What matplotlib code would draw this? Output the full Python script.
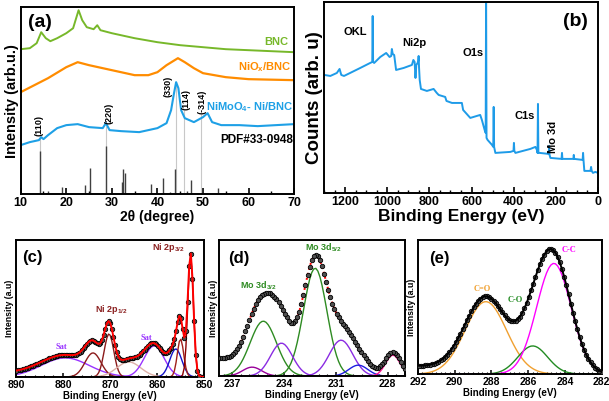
import matplotlib
matplotlib.use('Agg')
import matplotlib.pyplot as plt
import numpy as np
from matplotlib.ticker import MultipleLocator

plt.rcParams.update({
    'font.family': ['Liberation Sans', 'DejaVu Sans'],
    'font.weight': 'bold',
    'axes.labelweight': 'bold',
    'axes.linewidth': 1.4,
    'mathtext.fontset': 'custom',
    'mathtext.rm': 'Liberation Sans:bold',
    'mathtext.it': 'Liberation Sans:bold',
    'mathtext.bf': 'Liberation Sans:bold',
    'xtick.direction': 'in',
    'ytick.direction': 'in',
})

# ---- (a) XRD patterns (arbitrary offset units) ----
bnc_t = [10, 12, 13.5, 14.5, 15.5, 16.5, 18, 20, 21.5, 22.7, 23.5, 24.5, 26, 26.8,
         27.5, 30, 35, 40, 45, 50, 55, 60, 70]
bnc_i = [145, 146, 151, 162, 156, 153, 156, 161, 166, 184, 174, 167, 165, 169,
         164, 161, 156, 152, 149, 147, 145, 144, 142]
niox_t = [10, 13, 16, 20, 22.5, 25, 30, 35, 38, 40, 42, 44.5, 46, 48, 50, 55, 60, 70]
niox_i = [102, 109, 116, 127, 132, 129, 124, 119, 119, 122, 129, 136, 132, 126,
          121, 117, 115, 114]
nimo_t = [10, 12, 14, 14.5, 15, 16, 18, 20, 22.5, 25, 28, 28.7, 29.5, 32, 36, 40,
          42, 43, 43.6, 44.1, 44.6, 45.2, 46, 48, 50, 51, 52, 54, 58, 62, 70]
nimo_i = [49, 52, 54, 57, 55, 59, 66, 69, 70, 67, 66, 71, 64, 63, 62, 66,
          71, 84, 100, 112, 106, 84, 76, 72, 77, 81, 72, 69, 69, 68, 70]
pdf_pos = [14.3, 16.0, 19.0, 24.0, 25.3, 28.8, 32.2, 32.5, 32.8, 38.5, 41.2,
           42.8, 43.8, 46.5, 47.4, 53.3]
pdf_int = [43, 3, 7, 9, 26, 48, 12, 25, 21, 10, 16, 2, 25, 3, 14, 6]
guide_pos = [14.3, 28.8, 44.0, 45.9, 49.6]
guide_top = [56, 68, 112, 84, 80]
hkl_text = ['(110)', '(220)', '(330)', '(114)', '(-314)']
hkl_x = [14.0, 29.4, 42.4, 46.3, 49.7]
hkl_y = [69, 81, 108, 95, 92]

# ---- (b) survey spectrum ----
sv_e = [1298, 1270, 1239, 1226, 1218, 1205, 1176, 1128, 1081, 1071, 1069, 1067,
        1062, 1033, 1005, 989, 981, 978, 974, 967, 958, 922, 883, 876, 870, 866,
        862, 856, 853, 851, 849, 846, 840, 812, 780, 765, 756, 725, 719, 693, 646,
        640, 606, 559, 551, 538, 533, 531, 529, 524, 503, 497, 495, 493, 487, 416,
        401, 399, 397, 392, 321, 297, 290, 287, 285, 283, 277, 234, 232, 230, 226,
        173, 171, 169, 117, 115, 113, 73, 71, 69, 65, 36, 33, 30, 24, 13, 0]
sv_c = [118, 117, 120, 124, 118, 117, 120, 125, 130, 131, 177, 131,
        130, 136, 140, 136, 137, 144, 139, 138, 123, 125, 128, 133, 131, 115,
        128, 130, 132, 137, 125, 113, 104, 102, 104, 100, 98, 96, 92, 90, 90,
        83, 75, 78, 73, 63, 60, 205, 55, 53, 48, 46, 86, 46, 40, 41,
        42, 50, 42, 40, 44, 46, 43, 40, 89, 40, 40, 39, 47, 38, 35,
        34, 40, 34, 34, 38, 34, 33, 40, 33, 22, 22, 26, 22, 20, 21, 20]
sv_text = ['OKL', 'Ni2p', 'O1s', 'C1s']
sv_tx = [1152, 873, 592, 350]
sv_ty = [161, 150, 140, 77]

# ---- (c) Ni 2p fit: centre (eV), height, FWHM ----
ni_c = [879.5, 873.6, 870.2, 866.0, 860.6, 856.0, 855.0, 852.85]
ni_h = [19, 24, 43, 15, 31, 28, 38, 122]
ni_w = [12.0, 4.0, 2.4, 6.0, 5.0, 3.0, 1.6, 1.4]
ni_col = ['#9933FF', '#8B1A1A', '#8B1A1A', '#DDB0A8', '#9933FF', '#1414C8',
          '#A0201A', '#8B0000']
ni_bg = [4, 0]

# ---- (d) Mo 3d fit ----
mo_c = [235.2, 232.2, 235.85, 234.15, 230.7, 229.7, 227.7]
mo_h = [55, 108, 9, 33, 36, 11, 21]
mo_w = [1.8, 1.6, 1.3, 1.5, 1.6, 1.3, 1.0]
mo_col = ['#2E8B22', '#2E8B22', '#990099', '#8A2BE2', '#8A2BE2', '#1E1EE0',
          '#FF1493']
mo_bg = [18, 2]

# ---- (e) C 1s fit ----
c_c = [288.3, 285.75, 284.6]
c_h = [72, 28, 110]
c_w = [2.65, 1.9, 2.2]
c_col = ['#F0A030', '#228B22', '#FF00FF']
c_bg = [8, 0]


def gauss(x, c, h, w):
    s = w / 2.3548
    return h * np.exp(-(x - c) ** 2 / (2 * s ** 2))


def fit_panel(ax, lo, hi, step, cen, hgt, fw, cols, bg, fitcol, fitls, on_top):
    x = np.arange(lo, hi + step / 2, step)
    base = bg[1] + (bg[0] - bg[1]) * (x - lo) / (hi - lo)
    total = base.copy()
    for c, h, w, col in zip(cen, hgt, fw, cols):
        y = gauss(x, c, h, w)
        total += y
        ax.plot(x, y, color=col, lw=1.0)
    ax.plot(x, total, 'o', ms=3.2, mfc='#505050', mec='black', mew=0.6, zorder=3)
    ax.plot(x, total, color=fitcol, ls=fitls, lw=1.4, zorder=4 if on_top else 2)
    ax.set_xlim(hi, lo)


fig = plt.figure(figsize=(6.09, 4.01), dpi=100)

# (a)
ax = fig.add_axes([0.034, 0.516, 0.449, 0.466])
ax.vlines(guide_pos, 0, guide_top, color='#C8C8C8', lw=0.8)
ax.vlines(pdf_pos, 0, pdf_int, color='#404040', lw=1.0)
ax.plot(bnc_t, bnc_i, color='#77B82A', lw=1.4)
ax.plot(niox_t, niox_i, color='#FF8C00', lw=1.6)
ax.plot(nimo_t, nimo_i, color='#1EA0E6', lw=1.5)
for t, xx, yy in zip(hkl_text, hkl_x, hkl_y):
    ax.text(xx, yy, t, rotation=90, ha='center', va='center', fontsize=6.5)
ax.text(68.7, 152, 'BNC', color='#77B82A', fontsize=8, ha='right', va='center')
ax.text(69.5, 127, r'NiO$_\mathrm{x}$/BNC', color='#FF8C00', fontsize=8,
        ha='right', va='center')
ax.text(69.8, 87, r'NiMoO$_\mathrm{4}$- Ni/BNC', color='#1EA0E6', fontsize=8,
        ha='right', va='center')
ax.text(69.8, 54, 'PDF#33-0948', color='black', fontsize=8.5, ha='right',
        va='center')
ax.text(11.6, 172, '(a)', fontsize=14, va='center')
ax.set_xlim(10, 70)
ax.set_ylim(0, 187)
ax.xaxis.set_major_locator(MultipleLocator(10))
ax.xaxis.set_minor_locator(MultipleLocator(5))
ax.tick_params(axis='y', left=False, labelleft=False)
ax.tick_params(axis='x', labelsize=9, length=4, width=1.2, pad=2)
ax.tick_params(axis='x', which='minor', length=2.5, width=1.0)
ax.set_xlabel('2θ (degree)', fontsize=10, labelpad=1)
ax.set_ylabel('Intensity (arb.u.)', fontsize=10.5, labelpad=1)

# (b)
ax = fig.add_axes([0.532, 0.519, 0.450, 0.476])
ax.plot(sv_e, sv_c, color='#1E9BE8', lw=1.4)
for t, xx, yy in zip(sv_text, sv_tx, sv_ty):
    ax.text(xx, yy, t, fontsize=8, ha='center', va='center')
ax.text(212, 56, 'Mo 3d', rotation=90, fontsize=8, ha='center', va='center')
ax.text(107, 171, '(b)', fontsize=14, ha='center', va='center')
ax.set_xlim(1300, 0)
ax.set_ylim(0, 191)
ax.xaxis.set_major_locator(MultipleLocator(200))
ax.xaxis.set_minor_locator(MultipleLocator(50))
ax.tick_params(axis='y', left=False, labelleft=False)
ax.tick_params(axis='x', labelsize=9, length=4, width=1.2, pad=2)
ax.tick_params(axis='x', which='minor', length=2.5, width=1.0)
ax.set_xlabel('Binding Energy (eV)', fontsize=12.5, labelpad=1)
ax.set_ylabel('Counts (arb. u)', fontsize=13.5, labelpad=1)

# (c)
ax = fig.add_axes([0.026, 0.060, 0.309, 0.342])
fit_panel(ax, 850, 890, 0.35, ni_c, ni_h, ni_w, ni_col, ni_bg, 'red', '-', True)
ax.text(857.5, 129, r'Ni 2p$_\mathrm{3/2}$', color='#8B2020', fontsize=6.5,
        ha='center', va='center')
ax.text(869.6, 67, r'Ni 2p$_\mathrm{1/2}$', color='#8B2020', fontsize=6.5,
        ha='center', va='center')
ax.text(880.3, 30, 'Sat', color='#9933FF', fontsize=6, ha='center',
        va='center', family='Liberation Serif')
ax.text(862.2, 39, 'Sat', color='#9933FF', fontsize=6, ha='center',
        va='center', family='Liberation Serif')
ax.text(886.4, 119, '(c)', fontsize=12, ha='center', va='center')
ax.set_ylim(0, 137)
ax.xaxis.set_major_locator(MultipleLocator(10))
ax.xaxis.set_minor_locator(MultipleLocator(2))

# (d)
ax = fig.add_axes([0.360, 0.062, 0.305, 0.339])
fit_panel(ax, 227.0, 237.75, 0.12, mo_c, mo_h, mo_w, mo_col, mo_bg, 'red', ':',
          False)
ax.text(235.5, 90, r'Mo 3d$_\mathrm{3/2}$', color='#2E8B22', fontsize=6.5,
        ha='center', va='center')
ax.text(231.75, 128, r'Mo 3d$_\mathrm{5/2}$', color='#2E8B22', fontsize=6.5,
        ha='center', va='center')
ax.text(236.6, 118, '(d)', fontsize=12, ha='center', va='center')
ax.set_ylim(0, 136)
ax.xaxis.set_major_locator(MultipleLocator(3))
ax.xaxis.set_minor_locator(MultipleLocator(0.5))

# (e)
ax = fig.add_axes([0.686, 0.067, 0.302, 0.334])
fit_panel(ax, 282, 292, 0.12, c_c, c_h, c_w, c_col, c_bg, 'black', '-', True)
ax.text(288.5, 85, 'C=O', color='#F0A030', fontsize=6, ha='center',
        va='center', family='Liberation Serif')
ax.text(286.7, 74, 'C-O', color='#228B22', fontsize=6, ha='center',
        va='center', family='Liberation Serif')
ax.text(283.8, 123, 'C-C', color='#FF00FF', fontsize=6, ha='center',
        va='center', family='Liberation Serif')
ax.text(290.8, 115, '(e)', fontsize=12, ha='center', va='center')
ax.set_ylim(0, 133)
ax.xaxis.set_major_locator(MultipleLocator(2))
ax.xaxis.set_minor_locator(MultipleLocator(0.25))

for ax in fig.axes[2:]:
    ax.tick_params(axis='y', left=False, labelleft=False)
    ax.tick_params(axis='x', labelsize=7.5, length=3, width=1.1, pad=2)
    ax.tick_params(axis='x', which='minor', length=1.8, width=0.8)
    ax.set_xlabel('Binding Energy (eV)', fontsize=7, labelpad=1)
    ax.set_ylabel('Intensity (a.u)', fontsize=6.3, labelpad=1)

fig.savefig('out.png', dpi=100)
